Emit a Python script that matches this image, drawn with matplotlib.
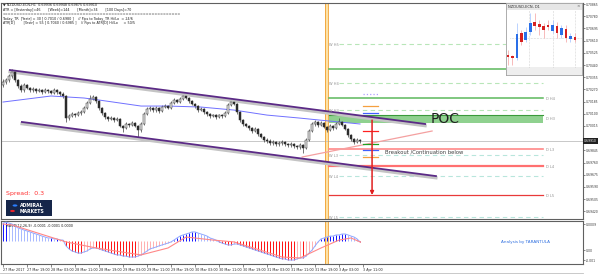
import matplotlib
matplotlib.use('Agg')
import matplotlib.pyplot as plt
import matplotlib.transforms as mtrans
from matplotlib.patches import Rectangle, Circle
import numpy as np

# ---------------- data ----------------
first_open = 0.70300
closes = [0.70321,0.70335,0.70363,0.70391,0.70335,0.70294,0.70266,0.70301,0.70280,0.70266,
          0.70273,0.70259,0.70266,0.70252,0.70266,0.70259,0.70245,0.70266,0.70252,0.70238,
          0.70224,0.70070,0.70084,0.70098,0.70091,0.70105,0.70112,0.70140,0.70175,0.70203,
          0.70217,0.70189,0.70140,0.70105,0.70077,0.70063,0.70070,0.70056,0.70063,0.70015,
          0.70001,0.70029,0.70022,0.70036,0.70015,0.69987,0.70029,0.70098,0.70133,0.70140,
          0.70126,0.70140,0.70119,0.70147,0.70154,0.70140,0.70175,0.70196,0.70182,0.70203,
          0.70224,0.70210,0.70189,0.70168,0.70154,0.70126,0.70133,0.70112,0.70098,0.70084,
          0.70091,0.70077,0.70091,0.70084,0.70105,0.70161,0.70182,0.70168,0.70112,0.70056,
          0.70029,0.70015,0.70001,0.69980,0.69994,0.69959,0.69938,0.69917,0.69910,0.69896,
          0.69903,0.69889,0.69896,0.69903,0.69889,0.69882,0.69889,0.69875,0.69868,0.69882,
          0.69861,0.69917,0.69980,0.70029,0.70043,0.70022,0.70036,0.70008,0.69987,0.70015,
          0.70001,0.70029,0.70043,0.70022,0.69994,0.69952,0.69924,0.69903,0.69917,0.69910]
highs = [0.70340,0.70352,0.70380,0.70412,0.70400,0.70345,0.70305,0.70315,0.70310,0.70290,
         0.70285,0.70282,0.70278,0.70275,0.70278,0.70275,0.70268,0.70280,0.70272,0.70262,
         0.70250,0.70232,0.70100,0.70110,0.70108,0.70118,0.70125,0.70152,0.70188,0.70230,
         0.70228,0.70225,0.70195,0.70148,0.70112,0.70088,0.70082,0.70080,0.70075,0.70070,
         0.70025,0.70040,0.70038,0.70048,0.70042,0.70022,0.70040,0.70110,0.70145,0.70155,
         0.70150,0.70152,0.70148,0.70160,0.70168,0.70162,0.70188,0.70210,0.70205,0.70218,
         0.70252,0.70235,0.70218,0.70196,0.70176,0.70160,0.70145,0.70140,0.70120,0.70105,
         0.70102,0.70100,0.70102,0.70100,0.70118,0.70175,0.70210,0.70195,0.70175,0.70120,
         0.70062,0.70038,0.70025,0.70010,0.70008,0.70002,0.69966,0.69945,0.69930,0.69922,
         0.69915,0.69912,0.69910,0.69918,0.69912,0.69898,0.69902,0.69898,0.69885,0.69895,
         0.69890,0.69928,0.69992,0.70045,0.70056,0.70050,0.70048,0.70042,0.70015,0.70028,
         0.70022,0.70040,0.70070,0.70050,0.70030,0.70000,0.69960,0.69932,0.69928,0.69925]
lows = [0.70285,0.70310,0.70325,0.70350,0.70320,0.70280,0.70250,0.70255,0.70270,0.70255,
        0.70255,0.70248,0.70250,0.70240,0.70245,0.70248,0.70235,0.70238,0.70240,0.70226,
        0.70210,0.70045,0.70060,0.70075,0.70080,0.70082,0.70095,0.70105,0.70132,0.70165,
        0.70195,0.70178,0.70128,0.70095,0.70066,0.70052,0.70055,0.70045,0.70048,0.70005,
        0.69973,0.69992,0.70010,0.70012,0.70005,0.69938,0.69975,0.70020,0.70090,0.70120,
        0.70115,0.70112,0.70108,0.70110,0.70138,0.70130,0.70132,0.70168,0.70172,0.70175,
        0.70195,0.70200,0.70178,0.70158,0.70142,0.70115,0.70118,0.70100,0.70088,0.70072,
        0.70075,0.70065,0.70068,0.70072,0.70078,0.70098,0.70152,0.70160,0.70102,0.70045,
        0.70018,0.70005,0.69990,0.69968,0.69970,0.69948,0.69928,0.69905,0.69898,0.69885,
        0.69885,0.69878,0.69878,0.69885,0.69876,0.69870,0.69872,0.69862,0.69855,0.69858,
        0.69826,0.69852,0.69910,0.69972,0.70018,0.70010,0.70012,0.69998,0.69975,0.69980,
        0.69990,0.69995,0.70022,0.70012,0.69985,0.69940,0.69912,0.69890,0.69895,0.69900]

ma_idx = [0, 16, 27, 32, 46, 55, 66, 77, 88, 99, 109, 119]
ma_val = [0.70182,0.70224,0.70210,0.70196,0.70154,0.70154,0.70147,0.70126,0.70091,0.70070,0.70049,0.70029]

upper_channel = ([2.3, 140.7], [0.70405, 0.70029])
lower_channel = ([6.3, 144.3], [0.70043, 0.69666])
pink_trend = ([99.7, 143.0], [0.69799, 0.69980])

weekly_names = ['W H5', 'W H4', 'W H3', 'W L3', 'W L4', 'W L5']
weekly_vals = [0.70586, 0.70314, 0.70126, 0.69813, 0.69666, 0.69381]
daily_names = ['D H4', 'D H3', 'D L3', 'D L4', 'D L5']
daily_vals = [0.70210, 0.70070, 0.69854, 0.69736, 0.69534]
green_solid_vals = [0.70412, 0.70210]
red_vals = [0.69854, 0.69736, 0.69534]
poc_zone = (0.70036, 0.70091)
current_price = 0.69910

marker_vals = [0.70238, 0.70154, 0.70105, 0.69980, 0.69889, 0.69847, 0.69799]
marker_cols = ['#b0a0ff', '#f5a040', '#4060ff', '#ff2020', '#20a020', '#4060ff', '#f5a040']
arrow_from, arrow_to = 0.70056, 0.69534

hist = [9.5,10,9.5,9,8, 6.9,6.4,5.8,5.3,4.8,4.2,3.7,3.2,2.6,2.1,
        1.6,1.6,1.1,1.1,0.5,0.5,
        -2.6,-4.2,-5.3,-5.8,-6.4,-6.4,
        -5.8,-5.3,-4.2,-3.7,-3.7,-4.2,
        -4.8,-5.3,-5.8,-6.4,-6.9,-7.4,-7.4,-8.0,-8.0,-8.5,-8.5,-8.5,-8.0,-7.4,
        -6.4,-5.3,-4.2,-3.7,-3.2,-2.6,-2.1,-1.6,-1.1,-0.5,
        0.5,1.6,2.6,3.2,3.7,4.2,4.8,4.8,4.2,3.7,
        3.2,2.6,1.6,1.1,0.5,
        -0.5,-1.1,-1.6,-2.1,-2.1,-1.6,-1.6,
        -2.1,-2.6,-3.2,-3.7,-4.2,-4.8,-5.3,-5.8,-6.4,-6.9,-7.4,-8.0,-8.5,-9.0,-9.5,-9.5,-10.1,-10.1,
        -10.1,-9.5,-9.0,-9.0,
        -8.0,-6.4,-4.8,-2.6,-0.5,
        1.1,1.6,2.1,2.6,2.6,3.2,3.2,3.7,3.7,
        3.2,2.6,2.1,1.1,-0.5]   # x 1e-4
sig_idx = [0, 3, 21, 31, 46, 55, 61, 70, 77, 93, 99, 106, 112, 116, 119]
sig_val = [9.0, 8.5, -0.5, -3.7, -7.4, -3.7, 2.1, 0.5, -0.5, -8.5, -9.0, -3.7, 0.5, 1.6, -0.5]

time_pos = list(range(0, 121, 8))
time_labels = ['27 Mar 2017','27 Mar 19:00','28 Mar 03:00','28 Mar 11:00','28 Mar 19:00',
               '29 Mar 03:00','29 Mar 11:00','29 Mar 19:00','30 Mar 03:00','30 Mar 11:00',
               '30 Mar 19:00','31 Mar 03:00','31 Mar 11:00','31 Mar 19:00','3 Apr 03:00','3 Apr 11:00']

d1_open  = [0.6945,0.6942,0.6936,0.7011,0.6990,0.7014,0.7044,0.7038,0.7032,0.7035,0.7017,0.7032,0.7005,0.7023,0.6993,0.6999]
d1_high  = [0.6960,0.6945,0.7041,0.7020,0.7029,0.7071,0.7071,0.7050,0.7041,0.7050,0.7050,0.7044,0.7035,0.7035,0.7011,0.7011]
d1_low   = [0.6915,0.6915,0.6930,0.6975,0.6984,0.7005,0.7020,0.7005,0.6996,0.7020,0.7011,0.6996,0.6996,0.6984,0.6984,0.6984]
d1_close = [0.6939,0.6936,0.7008,0.6984,0.7014,0.7041,0.7032,0.7029,0.7020,0.7029,0.7035,0.7011,0.7026,0.6996,0.7002,0.6990]

header_lines = ['\u25bc NZDUSD-ECN,H1  0.69936 0.69948 0.69875 0.69910',
                'ATR = [Yesterday]=46       [Week]=144       [Month]=34       [100 Days]=70',
                '=' * 62,
                'Today_TR  [Yestr] = 30 [ 0.7010 / 0.6980 ]    // Pips to Today_TR Hi/Lo  = 24/6',
                'ATR[D]        [Yestr] = 55 [ 0.7040 / 0.6985 ]    // Pips to ATR[D] Hi/Lo     = 50/5']

# ---------------- figure ----------------
W, H = 600, 276
fig = plt.figure(figsize=(6, 2.76), dpi=100)
fig.patch.set_facecolor('white')

def frac(x0, y0, x1, y1):
    return [x0 / W, 1 - y1 / H, (x1 - x0) / W, (y1 - y0) / H]

ax = fig.add_axes(frac(1, 3, 583, 219))
axm = fig.add_axes(frac(1, 221, 583, 264))
for a in (ax, axm):
    for s in a.spines.values():
        s.set_color('#606060')
        s.set_linewidth(0.8)

xlim = (-0.67, 193.3)
ylo, yhi = 0.69367, 0.70872
ax.set_xlim(*xlim)
ax.set_ylim(ylo, yhi)
axm.set_xlim(*xlim)
axm.set_ylim(-12.2, 10.6)

# weekend separator
for a in (ax, axm):
    a.axvspan(107.3, 108.4, color='#fde2a6', zorder=1, lw=0)
    a.axvline(107.3, color='#f0a030', lw=0.6, zorder=1.1)
    a.axvline(108.4, color='#f0a030', lw=0.6, zorder=1.1)

# current price line
ax.axhline(current_price, color='#c8c8c8', lw=0.7, zorder=1)

x0l, x1l = 108.5, 180
# POC zone
ax.fill_between([x0l, x1l], poc_zone[0], poc_zone[1], color='#8fd18f', lw=0, zorder=2)
ax.plot([x0l, x1l], [poc_zone[1], poc_zone[1]], color='#3a9a3a', lw=0.8, zorder=2)
# pivot lines
for v in green_solid_vals:
    ax.plot([x0l, x1l], [v, v], color='#5cb85c', lw=1.1, zorder=2)
for k, v in enumerate(red_vals):
    ax.plot([x0l, x1l], [v, v], color=['#ff8888', '#ff7070', '#e83a3a'][k],
            lw=[1.2, 1.6, 0.9][k], zorder=2)
for n, v in zip(weekly_names, weekly_vals):
    col = '#b8e6b8' if 'H' in n else '#b8e6dc'
    ax.plot([112, x1l], [v, v], color=col, lw=0.8, dashes=(4, 3), zorder=2)
    ax.text(108.6, v - 0.00004, n, fontsize=2.6, color='#909090', va='center', ha='left', zorder=5)
for n, v in zip(daily_names, daily_vals):
    ax.text(181, v - 0.00004, n, fontsize=2.6, color='#909090', va='center', ha='left', zorder=5)

# candles
opens = [first_open] + closes[:-1]
idx = np.arange(len(closes))
ax.vlines(idx, lows, highs, color='#404040', lw=0.5, zorder=3)
for i, (o, c) in enumerate(zip(opens, closes)):
    bull = c >= o
    lo, hi = min(o, c), max(o, c)
    if hi - lo < 0.00002:
        hi = lo + 0.00002
    ax.add_patch(Rectangle((i - 0.32, lo), 0.64, hi - lo,
                           facecolor='#e4e4e4' if bull else '#2a2a2a',
                           edgecolor='#303030', lw=0.35, zorder=4))

# moving average
ax.plot(ma_idx, ma_val, color='#7070ff', lw=0.7, zorder=3.5)

# channel lines with shadow
shadow = mtrans.offset_copy(ax.transData, fig=fig, y=-1.3, units='points')
for xs, ys in (upper_channel, lower_channel):
    ax.plot(xs, ys, color='#c4c4c4', lw=2.2, transform=shadow, zorder=3.6)
    ax.plot(xs, ys, color='#5b2a86', lw=1.3, zorder=3.7)
ax.plot(*pink_trend, color='#f4a0a0', lw=0.9, zorder=3.6)

# markers & arrow
for v, c in zip(marker_vals, marker_cols):
    ls = ':' if c == '#b0a0ff' else '-'
    ax.plot([120, 125], [v, v], color=c, lw=0.9, ls=ls, zorder=5)
ax.annotate('', xy=(123, arrow_to), xytext=(123, arrow_from),
            arrowprops=dict(arrowstyle='-|>', color='#e02020', lw=1.1,
                            mutation_scale=5, shrinkA=0, shrinkB=0), zorder=6)

ax.text(142.5, 0.70064, 'POC', fontsize=10, color='#202020', va='center', ha='left', zorder=6)
ax.text(127.3, 0.69834, 'Breakout /Continuation below', fontsize=3.8, color='#404040',
        va='center', ha='left', zorder=6)

# right axis
ax.yaxis.tick_right()
ticks = [0.70185 + k * 0.00085 for k in range(-9, 9)]
ticks = [t for t in ticks if ylo + 0.0001 < t < yhi - 0.00005 and abs(t - current_price) > 0.00045]
ax.set_yticks(ticks)
ax.set_yticklabels(['%.5f' % t for t in ticks])
ax.tick_params(axis='y', labelsize=2.2, length=1.5, width=0.4, pad=0.6, colors='#303030')
ax.set_xticks([])
ax.text(1.002, (current_price - ylo) / (yhi - ylo), '%.5f' % current_price,
        transform=ax.transAxes, fontsize=2.2, color='white', va='center', ha='left',
        bbox=dict(boxstyle='square,pad=0.25', fc='#202020', ec='none'), zorder=10, clip_on=False)

# header text
for k, line in enumerate(header_lines):
    fig.text(3 / W, 1 - (5 + 4.6 * k) / H, line, fontsize=2.4, color='#202020',
             va='center', ha='left')

# spread & logo
fig.text(6 / W, 1 - 193 / H, 'Spread:  0.3', fontsize=4.5, color='#ff3030', va='center', ha='left')
fig.patches.append(Rectangle((6 / W, 1 - 216 / H), 46 / W, 16 / H, transform=fig.transFigure,
                             facecolor='#16264a', edgecolor='none', zorder=5))
fig.patches.append(Circle((15 / W, 1 - 205.5 / H), 2.4 / W, transform=fig.transFigure,
                          facecolor='#2a7fff', edgecolor='none', zorder=6))
fig.patches.append(Circle((12.5 / W, 1 - 211 / H), 2.4 / W, transform=fig.transFigure,
                          facecolor='#e8202a', edgecolor='none', zorder=6))
fig.text(20 / W, 1 - 205.5 / H, 'ADMIRAL', fontsize=3.3, color='white', weight='bold',
         va='center', ha='left', zorder=7)
fig.text(20 / W, 1 - 211.5 / H, 'MARKETS', fontsize=3.3, color='white', weight='bold',
         va='center', ha='left', zorder=7)

# MACD sub window
hist_a = np.array(hist)
cols = []
for i, v in enumerate(hist_a):
    prev = hist_a[i - 1] if i > 0 else v - 1
    if v >= 0:
        cols.append('#1010ff' if v >= prev else '#a8b8ff')
    else:
        cols.append('#ff1010' if v <= prev else '#ffb0b0')
axm.vlines(np.arange(len(hist_a)), 0, hist_a, colors=cols, lw=0.7, zorder=3)
axm.plot(np.arange(len(hist_a)), hist_a, color='#8fa8ff', lw=0.7, zorder=3.5)
axm.plot(sig_idx, sig_val, color='#ff8888', lw=0.8, zorder=3.6)
axm.yaxis.tick_right()
axm.set_yticks([9.0, -4.8, -10.2])
axm.set_yticklabels(['0.0009', '0.00', '-0.001'])
axm.tick_params(axis='y', labelsize=2.2, length=1.5, width=0.4, pad=0.6, colors='#303030')
axm.set_xticks(time_pos)
axm.set_xticklabels(time_labels, ha='left')
axm.tick_params(axis='x', labelsize=2.4, length=2, width=0.4, pad=1, colors='#303030')
axm.text(0.008, 0.92, 'MACD(12,26,9) -0.0001 -0.0001 0.0000', transform=axm.transAxes,
         fontsize=2.4, color='#202020', va='top', ha='left')
axm.text(174, -0.5, 'Analysis by TARANTULA', fontsize=3.0, color='#2f6fe0', va='center', ha='center')

# inset D1 chart
axi = fig.add_axes(frac(506, 3, 582, 75))
axi.set_xlim(-0.45, 16.6)
axi.set_ylim(0.6885, 0.7101)
axi.set_xticks([])
axi.set_yticks([])
for s in axi.spines.values():
    s.set_color('#a0a0a0')
    s.set_linewidth(0.6)
axi.add_patch(Rectangle((0, 0.90), 1, 0.10, transform=axi.transAxes, facecolor='#e6e6e6',
                        edgecolor='none', zorder=1))
axi.add_patch(Rectangle((0, 0.0), 1, 0.11, transform=axi.transAxes, facecolor='#eeeeee',
                        edgecolor='none', zorder=1))
axi.text(0.03, 0.95, 'NZDUSD-ECN, D1', transform=axi.transAxes, fontsize=2.6, color='#303030',
         va='center', ha='left', zorder=2)
axi.text(0.95, 0.95, '\u00d7', transform=axi.transAxes, fontsize=3, color='#606060',
         va='center', ha='center', zorder=2)
for gx in (4.75, 10.1, 15.0):
    axi.axvline(gx, ymin=0.11, ymax=0.9, color='#b0b0b0', lw=0.4, ls=':', zorder=1.5)
axi.axhline(0.6996, xmin=0.05, xmax=1, color='#b0b0b0', lw=0.4, ls=':', zorder=1.5)
for k in range(len(d1_open)):
    bull = d1_close[k] >= d1_open[k]
    wc = '#9fc0ff' if bull else '#f4a0a0'
    bc = '#2a6fe8' if bull else '#d62020'
    axi.vlines(k, d1_low[k], d1_high[k], color=wc, lw=0.5, zorder=2)
    lo, hi = sorted((d1_open[k], d1_close[k]))
    axi.add_patch(Rectangle((k - 0.3, lo), 0.6, max(hi - lo, 0.0001), facecolor=bc,
                            edgecolor='none', zorder=3))

# bottom frame line
fig.add_artist(plt.Line2D([0, 583 / W], [1 - 273 / H, 1 - 273 / H], color='#c0c0c0', lw=0.6))

fig.savefig('out.png', dpi=100, facecolor='white')
